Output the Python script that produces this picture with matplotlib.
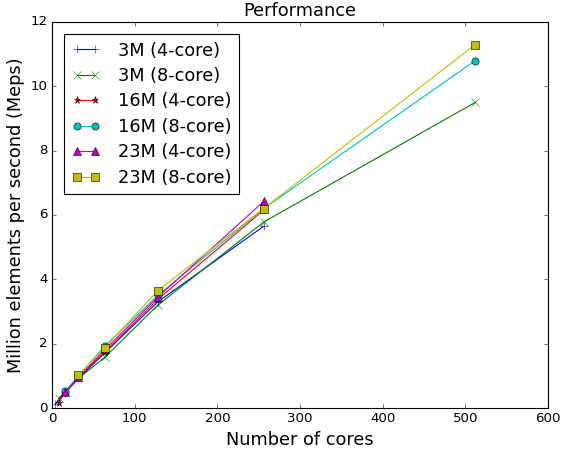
import matplotlib
matplotlib.use("Agg")
import matplotlib.pyplot as plt

plt.style.use("classic")

labels = ["3M (4-core)", "3M (8-core)", "16M (4-core)", "16M (8-core)", "23M (4-core)", "23M (8-core)"]

x_3m_4 = [4, 16, 32, 64, 128, 256]
y_3m_4 = [0.12, 0.48, 0.92, 1.72, 3.3, 5.65]

x_3m_8 = [8, 16, 32, 64, 128, 256, 512]
y_3m_8 = [0.3, 0.5, 0.92, 1.58, 3.2, 5.78, 9.5]

x_16m_4 = [8, 16, 32, 64, 128, 256]
y_16m_4 = [0.17, 0.5, 0.95, 1.75, 3.38, 6.15]

x_16m_8 = [16, 32, 64, 128, 256, 512]
y_16m_8 = [0.52, 1.0, 1.93, 3.5, 6.2, 10.8]

x_23m_4 = [16, 32, 64, 128, 256]
y_23m_4 = [0.5, 0.95, 1.82, 3.45, 6.42]

x_23m_8 = [32, 64, 128, 256, 512]
y_23m_8 = [1.02, 1.88, 3.65, 6.2, 11.3]

series = [(x_3m_4, y_3m_4, "b", "+"),
          (x_3m_8, y_3m_8, "g", "x"),
          (x_16m_4, y_16m_4, "r", "*"),
          (x_16m_8, y_16m_8, "c", "o"),
          (x_23m_4, y_23m_4, "m", "^"),
          (x_23m_8, y_23m_8, "y", "s")]

DPI = 80
fig = plt.figure(figsize=(562 / DPI, 449 / DPI), dpi=DPI)
ax = fig.add_axes([52 / 562, 41 / 449, 496 / 562, 386 / 449])
for (xs, ys, c, m), lab in zip(series, labels):
    ax.plot(xs, ys, color=c, marker=m, markersize=6.5, label=lab)

ax.set_xlim(0, 600)
ax.set_ylim(0, 12)
ax.set_title("Performance", fontsize=16)
ax.set_xlabel("Number of cores", fontsize=16)
ax.set_ylabel("Million elements per second (Meps)", fontsize=16)
ax.legend(loc="upper left", prop={"size": 16}, handlelength=1.6,
          handletextpad=1.0, labelspacing=0.42, borderaxespad=0.7)
fig.savefig("out.png", dpi=DPI)
